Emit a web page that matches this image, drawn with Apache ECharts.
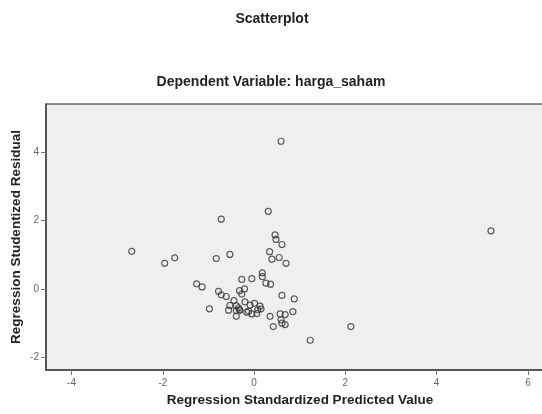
<!DOCTYPE html>
<html>
<head>
<meta charset="utf-8">
<script src="https://cdn.jsdelivr.net/npm/echarts@6/dist/echarts.min.js"></script>
<style>
html,body{margin:0;padding:0;background:#fff;overflow:hidden;}
#c{width:542px;height:414px;}
</style>
</head>
<body>
<div id="c"></div>
<script>
var predicted = [0.59,0.31,-0.72,0.46,0.48,0.61,0.34,0.39,0.55,0.70,-0.83,-0.53,0.18,0.18,-0.27,-0.05,-2.68,-1.96,-1.74,-1.26,-1.14,5.19,0.26,0.36,-0.78,-0.72,-0.61,-0.32,-0.21,-0.27,0.61,0.88,-0.44,-0.53,-0.39,-0.32,-0.20,-0.09,0.01,0.13,-0.98,-0.56,-0.39,-0.16,-0.05,0.06,0.15,-0.39,0.35,0.57,0.68,0.85,0.59,0.61,0.68,0.42,1.23,2.12,-0.34,-0.31,-0.12,0.08];
var residual  = [4.32,2.27,2.04,1.58,1.45,1.30,1.09,0.87,0.92,0.75,0.89,1.01,0.47,0.36,0.28,0.30,1.10,0.75,0.91,0.15,0.06,1.70,0.17,0.14,-0.07,-0.17,-0.22,-0.05,0.00,-0.15,-0.19,-0.29,-0.34,-0.48,-0.49,-0.60,-0.38,-0.47,-0.42,-0.50,-0.58,-0.62,-0.63,-0.68,-0.73,-0.72,-0.58,-0.80,-0.80,-0.73,-0.75,-0.66,-0.90,-1.00,-1.04,-1.10,-1.50,-1.10,-0.55,-0.63,-0.65,-0.61];
var xTicks = [-4,-2,0,2,4,6];
var yTicks = [-2,0,2,4];

var points = predicted.map(function(v,i){ return [v, residual[i]]; });
var chart = echarts.init(document.getElementById('c'));
chart.setOption({
  animation:false,
  backgroundColor:'#ffffff',
  title:[
    {text:'Scatterplot', left:267, top:7, textAlign:'center',
     textStyle:{fontFamily:'Liberation Sans, Arial', fontSize:14, fontWeight:'bold', color:'#222'}},
    {text:'Dependent Variable: harga_saham', left:266, top:70, textAlign:'center',
     textStyle:{fontFamily:'Liberation Sans, Arial', fontSize:14, fontWeight:'bold', color:'#222'}}
  ],
  grid:{left:46, top:104, height:266, width:502, show:true, backgroundColor:'#efefef',
        borderColor:'#666', borderWidth:1.5, containLabel:false, outerBoundsMode:'none'},
  xAxis:{type:'value', min:-4.56, max:6.44,
    name:'Regression Standardized Predicted Value', nameLocation:'middle', nameGap:19,
    nameTextStyle:{fontFamily:'Liberation Sans, Arial', fontSize:13.5, fontWeight:'bold', color:'#222', padding:[0,0,0,6]},
    axisLine:{show:true, onZero:false, lineStyle:{color:'#444', width:1.5}},
    axisTick:{show:true, length:5, customValues:xTicks, lineStyle:{color:'#777'}},
    axisLabel:{customValues:xTicks, margin:8, color:'#666', fontSize:10, fontFamily:'Liberation Sans, Arial'},
    splitLine:{show:false}},
  yAxis:{type:'value', min:-2.37, max:5.41,
    name:'Regression Studentized Residual', nameLocation:'middle', nameGap:23, nameMoveOverlap:false,
    nameTextStyle:{fontFamily:'Liberation Sans, Arial', fontSize:13.5, fontWeight:'bold', color:'#222'},
    axisLine:{show:true, onZero:false, lineStyle:{color:'#444', width:1.5}},
    axisTick:{show:true, length:5, customValues:yTicks, lineStyle:{color:'#777'}},
    axisLabel:{customValues:yTicks, margin:7, color:'#666', fontSize:10, fontFamily:'Liberation Sans, Arial'},
    splitLine:{show:false}},
  series:[{type:'scatter', data:points, symbol:'circle', symbolSize:6,
    itemStyle:{color:'rgba(0,0,0,0)', borderColor:'#3a3a3a', borderWidth:1.2}}]
});
</script>
</body>
</html>
